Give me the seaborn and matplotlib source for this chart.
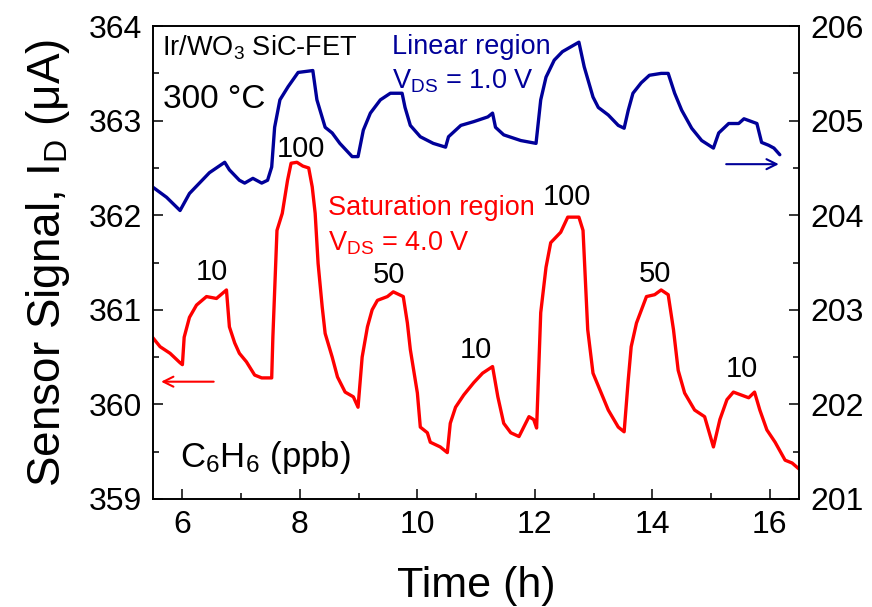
import matplotlib
matplotlib.use("Agg")
import matplotlib.pyplot as plt
from matplotlib.ticker import MultipleLocator
import seaborn as sns
import pandas as pd

# ---------------- data ----------------
sat_time = [5.49, 5.62, 5.79, 5.96, 6.0, 6.03, 6.12, 6.24, 6.41, 6.58, 6.75, 6.8, 6.89, 6.97,
            7.09, 7.23, 7.35, 7.52, 7.54, 7.61, 7.7, 7.79, 7.85, 7.95, 8.05, 8.15, 8.21, 8.26,
            8.31, 8.38, 8.43, 8.55, 8.64, 8.77, 8.91, 8.99, 9.06, 9.15, 9.23, 9.32, 9.49, 9.59,
            9.76, 9.83, 9.88, 10.0, 10.05, 10.17, 10.22, 10.39, 10.51, 10.56, 10.65, 10.79,
            10.96, 11.11, 11.28, 11.37, 11.47, 11.59, 11.73, 11.9, 11.98, 12.03, 12.1, 12.19,
            12.27, 12.44, 12.56, 12.75, 12.82, 12.9, 12.99, 13.13, 13.25, 13.42, 13.52, 13.59,
            13.64, 13.73, 13.9, 14.04, 14.15, 14.27, 14.36, 14.44, 14.55, 14.72, 14.89, 15.04,
            15.15, 15.27, 15.38, 15.64, 15.74, 15.83, 15.95, 16.09, 16.26, 16.38, 16.51]
sat_current = [360.71, 360.61, 360.54, 360.44, 360.42, 360.71, 360.92, 361.05, 361.14, 361.12,
               361.21, 360.82, 360.65, 360.54, 360.45, 360.31, 360.28, 360.28, 360.71, 361.84,
               362.02, 362.37, 362.55, 362.56, 362.52, 362.5, 362.3, 362.02, 361.49, 361.03,
               360.75, 360.5, 360.29, 360.13, 360.08, 359.97, 360.5, 360.82, 361.0, 361.1,
               361.14, 361.19, 361.14, 360.86, 360.58, 360.12, 359.76, 359.7, 359.6, 359.55,
               359.49, 359.8, 359.97, 360.1, 360.23, 360.33, 360.4, 360.08, 359.8, 359.7,
               359.66, 359.87, 359.84, 359.75, 360.97, 361.45, 361.71, 361.82, 361.98, 361.98,
               361.84, 360.79, 360.33, 360.12, 359.94, 359.76, 359.71, 360.26, 360.61, 360.86,
               361.14, 361.16, 361.21, 361.16, 360.79, 360.36, 360.12, 359.94, 359.87, 359.55,
               359.84, 360.05, 360.13, 360.07, 360.13, 359.94, 359.73, 359.6, 359.41, 359.38,
               359.31]

lin_time = [5.49, 5.73, 5.96, 6.12, 6.46, 6.72, 6.8, 6.97, 7.06, 7.2, 7.35, 7.45, 7.52, 7.57,
            7.66, 7.8, 7.97, 8.22, 8.29, 8.43, 8.55, 8.68, 8.89, 8.99, 9.08, 9.2, 9.37, 9.54,
            9.74, 9.79, 9.88, 10.05, 10.27, 10.48, 10.53, 10.74, 10.96, 11.2, 11.28, 11.33,
            11.47, 11.76, 12.02, 12.1, 12.19, 12.33, 12.47, 12.61, 12.75, 12.84, 12.99, 13.08,
            13.25, 13.42, 13.52, 13.59, 13.67, 13.81, 13.95, 14.15, 14.27, 14.38, 14.5, 14.67,
            14.84, 15.04, 15.13, 15.3, 15.47, 15.56, 15.78, 15.86, 15.98, 16.07, 16.17]
lin_current = [204.3, 204.19, 204.05, 204.23, 204.45, 204.56, 204.48, 204.37, 204.34, 204.39,
               204.34, 204.37, 204.51, 204.93, 205.22, 205.36, 205.51, 205.53, 205.22, 204.93,
               204.87, 204.76, 204.62, 204.62, 204.9, 205.08, 205.22, 205.29, 205.29, 205.14,
               204.95, 204.83, 204.76, 204.72, 204.83, 204.95, 204.99, 205.04, 205.08, 204.93,
               204.85, 204.79, 204.76, 205.22, 205.46, 205.64, 205.73, 205.78, 205.83, 205.57,
               205.25, 205.14, 205.06, 204.95, 204.92, 205.11, 205.29, 205.4, 205.48, 205.5,
               205.5, 205.29, 205.11, 204.92, 204.79, 204.71, 204.87, 204.97, 204.97, 205.02,
               204.97, 204.77, 204.74, 204.71, 204.64]

conc_labels = ["100", "10", "50", "10", "100", "50", "10"]
conc_time = [8.02, 6.5, 9.52, 10.99, 12.55, 14.05, 15.52]
conc_level = [362.62, 361.31, 361.28, 360.49, 362.11, 361.29, 360.29]

left_ticks = [359, 360, 361, 362, 363, 364]
right_ticks = [201, 202, 203, 204, 205, 206]
time_ticks = [6, 8, 10, 12, 14, 16]

RED = "#FF0000"
BLUE = "#000099"

# ---------------- style ----------------
sns.set_style("ticks")
plt.rcParams["font.family"] = ["Liberation Sans", "DejaVu Sans"]
plt.rcParams["mathtext.fontset"] = "custom"
plt.rcParams["mathtext.rm"] = "Liberation Sans"
plt.rcParams["mathtext.it"] = "Liberation Sans:italic"
plt.rcParams["mathtext.bf"] = "Liberation Sans:bold"
for key in ("text.color", "axes.labelcolor", "xtick.color", "ytick.color", "axes.edgecolor"):
    plt.rcParams[key] = "black"

fig = plt.figure(figsize=(8.72, 6.07), dpi=100)
ax = fig.add_axes([0.1755, 0.178, 0.741, 0.779])
ax2 = ax.twinx()

sat_df = pd.DataFrame({"t": sat_time, "i": sat_current})
lin_df = pd.DataFrame({"t": lin_time, "i": lin_current})
sns.lineplot(data=sat_df, x="t", y="i", ax=ax, color=RED, lw=2.4, sort=False)
sns.lineplot(data=lin_df, x="t", y="i", ax=ax2, color=BLUE, lw=2.4, sort=False)

ax.set_xlim(5.5, 16.5)
ax.set_ylim(359, 364)
ax2.set_ylim(201, 206)
ax.set_xticks(time_ticks)
ax.set_yticks(left_ticks)
ax2.set_yticks(right_ticks)
ax.xaxis.set_minor_locator(MultipleLocator(1))
ax.yaxis.set_minor_locator(MultipleLocator(0.5))
ax2.yaxis.set_minor_locator(MultipleLocator(0.5))

for a in (ax, ax2):
    a.tick_params(which="major", direction="in", length=7, width=1.1, labelsize=23, pad=8,
                  colors="black")
    a.tick_params(which="minor", direction="in", length=4, width=1.1, colors="black")
    for s in a.spines.values():
        s.set_linewidth(1.2)
        s.set_color("black")
ax.tick_params(axis="y", which="both", right=False)
ax.tick_params(axis="x", which="both", top=False)

ax.set_xlabel("Time (h)", fontsize=31, labelpad=19, color="black")
ax.set_ylabel("Sensor Signal, I$_\\mathrm{D}$ (μA)", fontsize=33, labelpad=12, color="black")
ax2.set_ylabel("")

# annotations
ax.text(5.65, 363.69, "Ir/WO$_3$ SiC-FET", fontsize=19.5, va="baseline", ha="left")
ax.text(5.67, 363.13, "300 °C", fontsize=24, va="baseline", ha="left")
ax.text(9.57, 363.71, "Linear region", fontsize=19.5, color=BLUE, va="baseline", ha="left")
ax.text(9.57, 363.34, "V$_\\mathrm{DS}$ = 1.0 V", fontsize=19.5, color=BLUE, va="baseline", ha="left")
ax.text(8.48, 362.0, "Saturation region", fontsize=19.5, color=RED, va="baseline", ha="left")
ax.text(8.48, 361.63, "V$_\\mathrm{DS}$ = 4.0 V", fontsize=19.5, color=RED, va="baseline", ha="left")
ax.text(5.96, 359.34, "C$_6$H$_6$ (ppb)", fontsize=25, va="baseline", ha="left")
for lab, tx, ty in zip(conc_labels, conc_time, conc_level):
    ax.text(tx, ty, lab, fontsize=21, va="baseline", ha="center")

ax.annotate("", xy=(5.59, 360.24), xytext=(6.58, 360.24),
            arrowprops=dict(arrowstyle="->", color=RED, lw=1.5, mutation_scale=18))
ax2.annotate("", xy=(16.2, 204.54), xytext=(15.21, 204.54),
             arrowprops=dict(arrowstyle="->", color=BLUE, lw=1.5, mutation_scale=18))

fig.savefig("out.png", dpi=100)
